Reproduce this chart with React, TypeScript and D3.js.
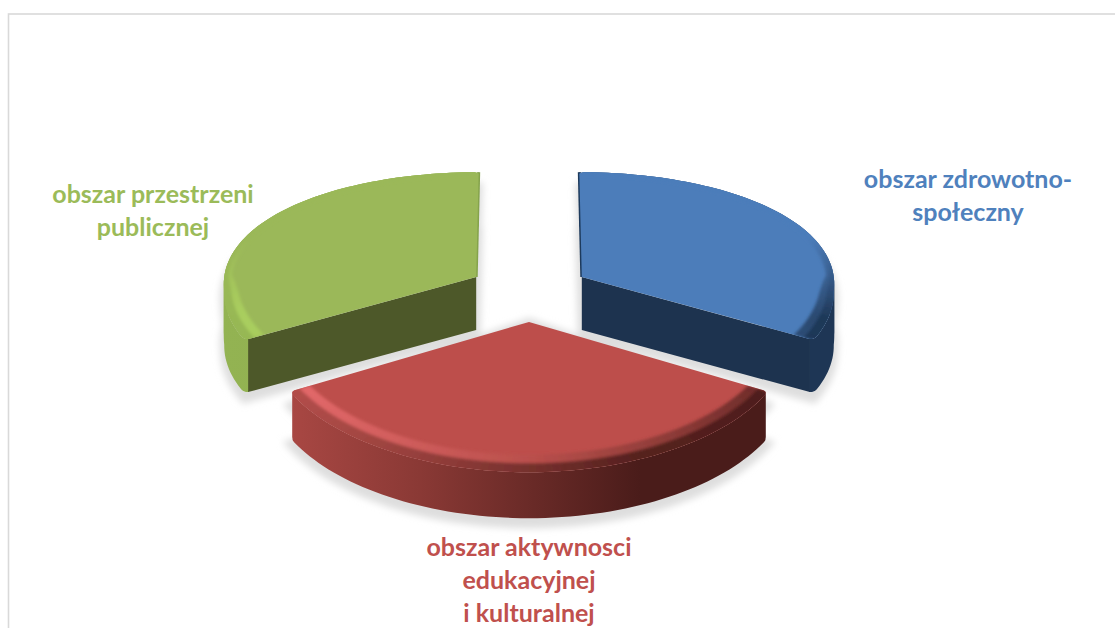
import React from "react";
import * as d3 from "d3";

const categories = ["obszar zdrowotno-społeczny", "obszar aktywnosci edukacyjnej i kulturalnej", "obszar przestrzeni publicznej"];
const sliceValues = [1, 1, 1];
const labelLines = [["obszar zdrowotno-", "społeczny"], ["obszar aktywnosci", "edukacyjnej", "i kulturalnej"], ["obszar przestrzeni", "publicznej"]];
const topColors = ["#4c7dba", "#bd4e4b", "#9bb859"];
const textColors = ["#4f81bd", "#c0504d", "#9bbb59"];
const innerColors = ["#1d334f", "#4a1d1b", "#4d5829"];
const sliverColors = ["#1d3a5c", "#4a1d1b", "#85a34c"];
const wallStops = [["#1e3655", "#1e3655"], ["#a84743", "#8a3935", "#4a1c1a", "#4a1c1a"], ["#93b352", "#88a64c"]];
const wallStopX = [[220, 840], [292, 420, 640, 770], [220, 840]];
const highlightStops = [["#5f92cf", "#4c7dba", "#1f3756"], ["#e2696a", "#b9504c", "#4f1e1c"], ["#a9cd5e", "#9bb859", "#6e8a3c"]];
const labelCentres = [[968, 188], [529, 556], [153, 203]];
const lineGap = 33;
const drawOrder = [2, 0, 1];
const depths = [53, 46, 53];

const W = 1115, H = 628;
const explode = 0.242, cx = 529, cy = 291.5, A = 253.5, B = 122, kxFar = 0.05, kxNear = 0.11, ky = 0.13;
const project = (X: number, Y: number): [number, number] => [cx + (A * X) / (1 - (Y < 0 ? kxFar : kxNear) * Y), cy + (B * Y) / (1 - ky * Y)];
const arcs = d3.pie<number>().sort(null).startAngle(0).endAngle(2 * Math.PI)(sliceValues);
const line = d3.line();

function pt(i: number, r: number, t: number): [number, number] {
  const a = arcs[i];
  const mid = (a.startAngle + a.endAngle) / 2;
  return project(explode * Math.sin(mid) + r * Math.sin(t), -explode * Math.cos(mid) - r * Math.cos(t));
}
// outer rim with softly rounded corners at both ends of the sector
const cornerSpan = 0.035;
function rim(i: number, t: number): [number, number] {
  const a = arcs[i];
  const delta = Math.min(t - a.startAngle, a.endAngle - t);
  const u = delta < cornerSpan ? 1 - delta / cornerSpan : 0;
  return pt(i, 1 - 0.018 * (1 - Math.sqrt(1 - u * u)), t);
}
const down = (p: [number, number], d: number): [number, number] => [p[0], p[1] + d];
const closed = (pts: [number, number][]) => line(pts) + "Z";
const angles = (i: number) => {
  const a = arcs[i];
  const span = a.endAngle - a.startAngle;
  const ends = d3.range(0, 9).map((k) => (cornerSpan * k) / 8);
  const body = d3.range(1, 72).map((k) => cornerSpan + ((span - 2 * cornerSpan) * k) / 72);
  return [...ends, ...body, ...ends.slice().reverse().map((e) => span - e)].map((o) => a.startAngle + o);
};
const bevelWidth = (t: number) => {
  const ny = -Math.cos(t);
  return 0.1 * (0.28 + 0.72 * Math.sqrt(Math.max(0, ny)));
};
// the swept wall is only a simple polygon while x runs one way, so split the rim where it turns
function monotoneRuns(points: [number, number][]) {
  const runs: [number, number][][] = [[points[0]]];
  let dir = 0;
  for (let k = 1; k < points.length; k++) {
    const step = Math.sign(points[k][0] - points[k - 1][0]);
    if (dir !== 0 && step !== 0 && step !== dir) runs.push([points[k - 1]]);
    if (step !== 0) dir = step;
    runs[runs.length - 1].push(points[k]);
  }
  return runs;
}

function Slice({ i }: { i: number }) {
  const ts = angles(i);
  const d = depths[i];
  const apex = pt(i, 0, 0);
  const rimPts = ts.map((t) => rim(i, t));
  const top = closed([apex, ...rimPts]);
  const wallScale = d3.scaleLinear<string>().domain(wallStopX[i]).range(wallStops[i]);
  const midScale = d3.scaleLinear<string>().domain([-0.7, 0, 1]).range(highlightStops[i]);
  const front = i === 0 ? arcs[i].endAngle : i === 2 ? arcs[i].startAngle : null;
  const back = i === 0 ? arcs[i].startAngle : i === 2 ? arcs[i].endAngle : null;
  const gx0 = wallStopX[i][0], gx1 = wallStopX[i][wallStopX[i].length - 1];
  return (
    <g>
      <defs>
        <linearGradient id={`wall${i}`} gradientUnits="userSpaceOnUse" x1={gx0} x2={gx1} y1={0} y2={0}>
          {wallStopX[i].map((x, k) => <stop key={k} offset={(x - gx0) / (gx1 - gx0)} stopColor={wallStops[i][k]} />)}
        </linearGradient>
        <clipPath id={`clip${i}`}><path d={top} /></clipPath>
      </defs>
      {monotoneRuns(rimPts).map((run, k) => (
        <path key={k} d={closed([...run, ...run.slice().reverse().map((p) => down(p, d))])} fill={`url(#wall${i})`} />
      ))}
      {front !== null && <path d={closed([apex, pt(i, 0.985, front), down(pt(i, 0.985, front), d), down(apex, d)])} fill={innerColors[i]} />}
      {back !== null && <path d={line([pt(i, 1, back), apex])!} fill="none" stroke={sliverColors[i]} strokeWidth={3} />}
      <path d={top} fill={topColors[i]} />
      <g clipPath={`url(#clip${i})`}>
        <g filter="url(#bevel)">
          {ts.slice(0, -1).map((t, k) => {
            const t1 = ts[k + 1];
            const tm = (t + t1) / 2;
            const nx = Math.sin(tm), ny = -Math.cos(tm);
            const fade = Math.max(0, Math.min(1, (ny + 0.35) / 0.7));
            const pm = pt(i, 1, tm);
            const mid = d3.interpolateRgb(topColors[i], midScale(nx))(fade);
            const outer = d3.interpolateRgb(topColors[i], wallScale(pm[0]))(fade);
            const radii = (a: number) => [1 - bevelWidth(a), 1 - bevelWidth(a) * 0.5, 1.03];
            const cols = [d3.interpolateRgb(topColors[i], mid)(0.8), d3.interpolateRgb(mid, outer)(0.85)];
            return cols.map((col, b) => (
              <path key={k + "-" + b} d={closed([pt(i, radii(t)[b], t), pt(i, radii(t1)[b], t1), pt(i, radii(t1)[b + 1], t1), pt(i, radii(t)[b + 1], t)])} fill={col} stroke={col} strokeWidth={0.6} />
            ));
          })}
        </g>
      </g>
    </g>
  );
}

function Shadow({ i }: { i: number }) {
  const ts = angles(i);
  const apex = pt(i, 0, 0);
  const pts: [number, number][] = [down(apex, depths[i] + 4), ...ts.map((t) => down(pt(i, 1, t), depths[i] + 6))];
  const extra: [number, number][] = [apex, ...ts.map((t) => down(pt(i, 1, t), 14))];
  return (
    <g>
      <path d={closed(pts)} fill="#dedede" stroke="#dedede" strokeWidth={8} />
      <path d={closed(extra)} fill="#dedede" stroke="#dedede" strokeWidth={8} />
    </g>
  );
}

export default function App() {
  return (
    <svg width={W} height={H} viewBox={`0 0 ${W} ${H}`} style={{ position: "absolute", left: 0, top: 0, background: "#fff" }} role="img" aria-label={categories.join(", ")}>
      <defs>
        <filter id="soft" x="-20%" y="-20%" width="140%" height="140%">
          <feGaussianBlur stdDeviation="3.5" />
        </filter>
        <filter id="bevel" x="-5%" y="-5%" width="110%" height="110%">
          <feGaussianBlur stdDeviation="1.6" />
        </filter>
      </defs>
      <rect x={8.5} y={14} width={W} height={H} fill="none" stroke="#d9d9d9" strokeWidth={1.6} />
      <g filter="url(#soft)">{drawOrder.map((i) => <Shadow key={i} i={i} />)}</g>
      {drawOrder.map((i) => <Slice key={i} i={i} />)}
      {labelLines.map((lines, i) => (
        <text key={i} textAnchor="middle" fontFamily="Lato, 'Open Sans', sans-serif" fontWeight={700} fontSize={25} fill={textColors[i]}>
          {lines.map((l, j) => (
            <tspan key={j} x={labelCentres[i][0]} y={labelCentres[i][1] + j * lineGap}>{l}</tspan>
          ))}
        </text>
      ))}
    </svg>
  );
}
